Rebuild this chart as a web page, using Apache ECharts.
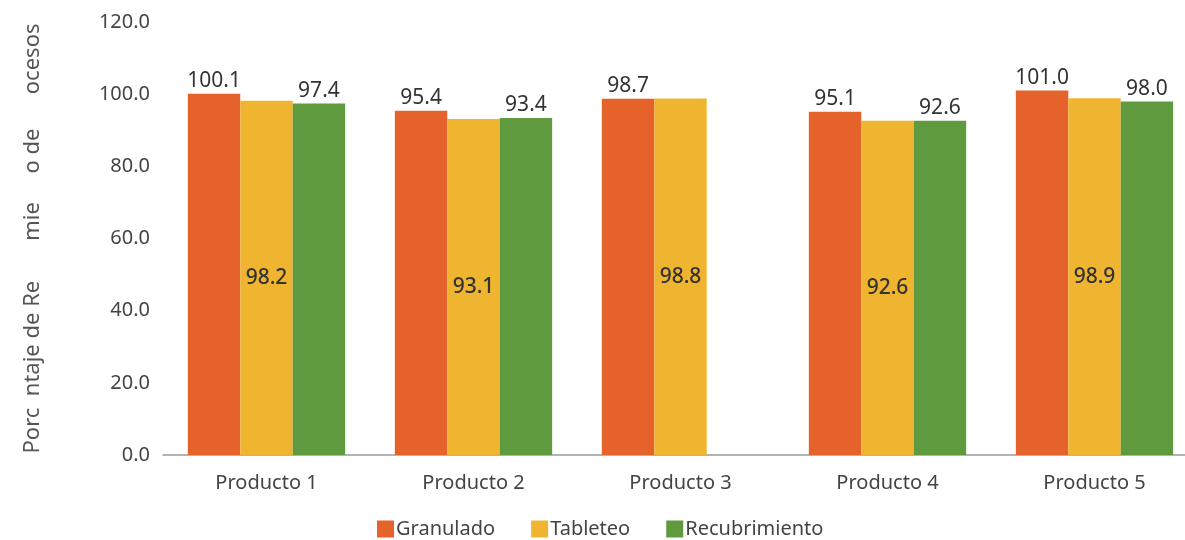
<!DOCTYPE html>
<html>
<head>
<meta charset="utf-8">
<script src="https://cdn.jsdelivr.net/npm/echarts@6/dist/echarts.min.js"></script>
<style>
  html, body { margin: 0; padding: 0; background: #ffffff; overflow: hidden; }
  #chart { width: 1210px; height: 540px; }
</style>
</head>
<body>
<div id="chart"></div>
<script>
// Process yield per product and stage (%)
const categories = ['Producto 1', 'Producto 2', 'Producto 3', 'Producto 4', 'Producto 5'];
const granulado = [100.1, 95.4, 98.7, 95.1, 101.0];
const tableteo = [98.2, 93.1, 98.8, 92.6, 98.9];
const recubrimiento = [97.4, 93.4, null, 92.6, 98.0];
const seriesNames = ['Granulado', 'Tableteo', 'Recubrimiento'];
const yTicks = [0, 20, 40, 60, 80, 100, 120];

const FONT = '"Noto Sans", "Open Sans", sans-serif';
const colors = ['#E5622A', '#F0B530', '#5F9A3F'];

const fmt = p => p.value == null ? '' : p.value.toFixed(1);
const topLabel = {
  show: true,
  position: 'top',
  distance: 2,
  color: '#333333',
  fontFamily: FONT,
  fontSize: 21,
  formatter: fmt
};
const midLabel = {
  show: true,
  position: 'inside',
  color: '#333333',
  fontFamily: FONT,
  fontSize: 21,
  fontWeight: 500,
  formatter: fmt
};

const chart = echarts.init(document.getElementById('chart'), null, { renderer: 'canvas' });
chart.setOption({
  animation: false,
  backgroundColor: '#ffffff',
  color: colors,
  grid: { left: 163, width: 1035, top: 22, height: 433 },
  legend: {
    data: seriesNames,
    top: 514,
    left: 372,
    itemWidth: 17,
    itemHeight: 17,
    itemGap: 36,
    icon: 'rect',
    textStyle: { color: '#444444', fontFamily: FONT, fontSize: 20, padding: [0, 0, 0, -3] }
  },
  xAxis: {
    type: 'category',
    data: categories,
    axisLine: { show: true, lineStyle: { color: '#9a9a9a', width: 1.5 } },
    axisTick: { show: false },
    axisLabel: { color: '#444444', fontFamily: FONT, fontSize: 20, margin: 18 }
  },
  yAxis: {
    type: 'value',
    min: yTicks[0],
    max: yTicks[yTicks.length - 1],
    interval: 20,
    splitLine: { show: false },
    axisLine: { show: false },
    axisTick: { show: false },
    axisLabel: {
      color: '#444444', fontFamily: FONT, fontSize: 20, margin: 13,
      formatter: v => v.toFixed(1)
    },
    name: 'Porc  ntaje de Re       mie     o de      ocesos',
    nameLocation: 'middle',
    nameGap: 119,
    nameTextStyle: { color: '#555555', fontFamily: FONT, fontSize: 22 }
  },
  series: [
    { name: seriesNames[0], type: 'bar', data: granulado, barGap: '0%', barCategoryGap: '24%', label: topLabel },
    { name: seriesNames[1], type: 'bar', data: tableteo, barGap: '0%', barCategoryGap: '24%', label: midLabel },
    { name: seriesNames[2], type: 'bar', data: recubrimiento, barGap: '0%', barCategoryGap: '24%', label: topLabel }
  ]
});
</script>
</body>
</html>
